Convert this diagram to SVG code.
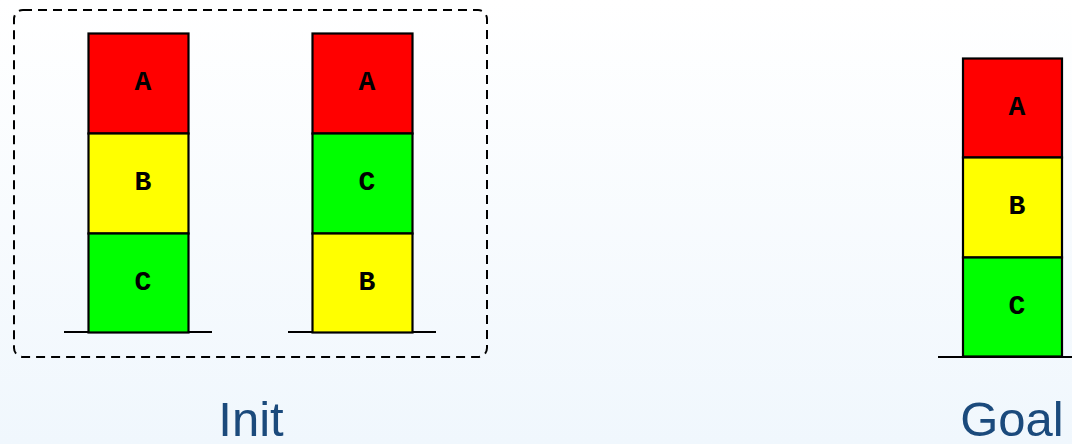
<svg xmlns="http://www.w3.org/2000/svg" width="1072" height="444" viewBox="0 0 1072 444">
<defs>
<linearGradient id="bg" x1="0" y1="0" x2="0" y2="1">
<stop offset="0" stop-color="#ffffff"/>
<stop offset="1" stop-color="#f0f7fd"/>
</linearGradient>
</defs>
<style>
.blk{stroke:#000;stroke-width:2.2}
.a{fill:#ff0000}.b{fill:#ffff00}.c{fill:#00ff00}
.lt{font-family:"Liberation Mono","Courier New",monospace;font-weight:bold;font-size:28px;text-anchor:middle;fill:#000}
.gnd{stroke:#000;stroke-width:2.2}
.cap{font-family:"Liberation Sans",Arial,sans-serif;font-size:49px;text-anchor:middle;fill:#1b4a7c}
</style>
<rect width="1072" height="444" fill="url(#bg)"/>
<g id="init-box">
<rect x="14" y="10" width="473" height="347" rx="9" fill="none" stroke="#000" stroke-width="2" stroke-dasharray="9,6"/>
</g>
<g id="stack1">
<line class="gnd" x1="64" y1="332" x2="212" y2="332"/>
<rect class="blk a" x="88.5" y="33.5" width="100" height="100"/>
<rect class="blk b" x="88.5" y="133.5" width="100" height="100"/>
<rect class="blk c" x="88.5" y="233.5" width="100" height="99"/>
<text class="lt" x="143" y="90">A</text>
<text class="lt" x="143" y="190">B</text>
<text class="lt" x="143" y="290">C</text>
</g>
<g id="stack2">
<line class="gnd" x1="288" y1="332" x2="436" y2="332"/>
<rect class="blk a" x="312.5" y="33.5" width="100" height="100"/>
<rect class="blk c" x="312.5" y="133.5" width="100" height="100"/>
<rect class="blk b" x="312.5" y="233.5" width="100" height="99"/>
<text class="lt" x="367" y="90">A</text>
<text class="lt" x="367" y="190">C</text>
<text class="lt" x="367" y="290">B</text>
</g>
<g id="goal">
<line class="gnd" x1="938" y1="357" x2="1072" y2="357"/>
<rect class="blk a" x="963" y="58.5" width="99" height="99"/>
<rect class="blk b" x="963" y="157.5" width="99" height="100"/>
<rect class="blk c" x="963" y="257.5" width="99" height="99"/>
<text class="lt" x="1017" y="115">A</text>
<text class="lt" x="1017" y="214">B</text>
<text class="lt" x="1017" y="314">C</text>
</g>
<g id="labels">
<text class="cap" x="251" y="436">Init</text>
<text class="cap" x="1012" y="436">Goal</text>
</g>
</svg>
